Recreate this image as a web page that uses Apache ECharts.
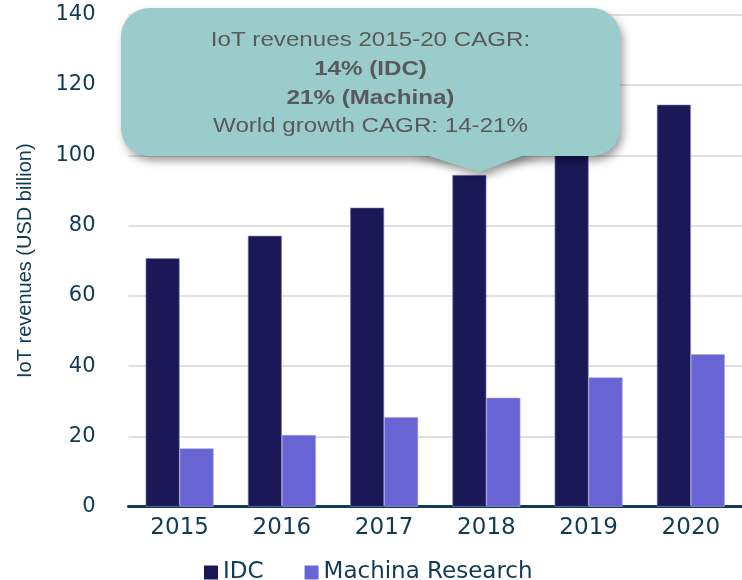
<!DOCTYPE html>
<html>
<head>
<meta charset="utf-8">
<script src="https://cdn.jsdelivr.net/npm/echarts@6/dist/echarts.min.js"></script>
<style>html,body{margin:0;padding:0;background:#fff;}#c{width:742px;height:580px;}</style>
</head>
<body>
<div id="c"></div>
<script>
var years = ['2015', '2016', '2017', '2018', '2019', '2020'];
var idc = [70.7, 77.1, 85.1, 94.4, 104, 114.4];
var machina = [16.6, 20.4, 25.5, 31.0, 36.8, 43.4];
var seriesNames = ['IDC', 'Machina Research'];
var yTitle = 'IoT revenues (USD billion)';
var calloutLines = ['IoT revenues 2015-20 CAGR:', '14% (IDC)', '21% (Machina)', 'World growth CAGR: 14-21%'];

var axisColor = '#113a55';
var chart = echarts.init(document.getElementById('c'), null, {renderer: 'canvas'});

var boxFill = '#9acccc';
var shadow = {shadowBlur: 9, shadowOffsetX: 3, shadowOffsetY: 5, shadowColor: 'rgba(0,0,0,0.38)'};
var pointerPts = [[410, 150], [538, 150], [479, 172]];
var lineY = [40.5, 69.5, 98, 126.5];

var graphics = [
  {type: 'polygon', z: 99, shape: {points: pointerPts}, style: Object.assign({fill: boxFill}, shadow)},
  {type: 'rect', z: 100, shape: {x: 121, y: 8, width: 499, height: 148, r: 28}, style: Object.assign({fill: boxFill}, shadow)},
  {type: 'polygon', z: 101, shape: {points: pointerPts}, style: {fill: boxFill}}
];
calloutLines.forEach(function (t, i) {
  graphics.push({
    type: 'text', z: 102, x: 370.5, y: lineY[i], scaleX: 1.15,
    style: {
      text: t, fill: '#595959', textAlign: 'center', textVerticalAlign: 'middle',
      fontFamily: 'Liberation Sans, Arial, sans-serif', fontSize: 21,
      fontWeight: (i === 1 || i === 2) ? 'bold' : 'normal'
    }
  });
});

chart.setOption({
  animation: false,
  backgroundColor: '#ffffff',
  grid: {left: 128.5, top: 14.7, width: 618, height: 492, containLabel: false},
  legend: {
    data: seriesNames,
    left: 199, top: 556,
    icon: 'rect', itemWidth: 14, itemHeight: 14, itemGap: 41,
    itemStyle: {borderWidth: 0},
    textStyle: {color: axisColor, fontSize: 23, fontFamily: 'DejaVu Sans, sans-serif'}
  },
  xAxis: {
    type: 'category', data: years,
    axisLine: {lineStyle: {color: axisColor, width: 3}},
    axisTick: {show: false},
    axisLabel: {color: axisColor, fontSize: 23, fontFamily: 'DejaVu Sans, sans-serif', margin: 10}
  },
  yAxis: {
    type: 'value', min: 0, max: 140, interval: 20,
    name: yTitle, nameLocation: 'middle', nameRotate: 90, nameGap: 93,
    nameTextStyle: {color: axisColor, fontSize: 20, fontFamily: 'Liberation Sans, Arial, sans-serif'},
    axisLine: {show: false}, axisTick: {show: false},
    axisLabel: {color: axisColor, fontSize: 21, fontFamily: 'DejaVu Sans, sans-serif', margin: 33},
    splitLine: {lineStyle: {color: '#d6d6d6', width: 1.5}}
  },
  series: [{
    name: seriesNames[0], type: 'bar', data: idc, barWidth: 34, barGap: '0%',
    itemStyle: {color: '#1b1858', borderColor: '#8f8cc4', borderWidth: 0.6},
    emphasis: {disabled: true}
  }, {
    name: seriesNames[1], type: 'bar', data: machina, barWidth: 34,
    itemStyle: {color: '#6864d3', borderColor: '#a9a6ea', borderWidth: 0.6},
    emphasis: {disabled: true}
  }],
  graphic: graphics
});
</script>
</body>
</html>
